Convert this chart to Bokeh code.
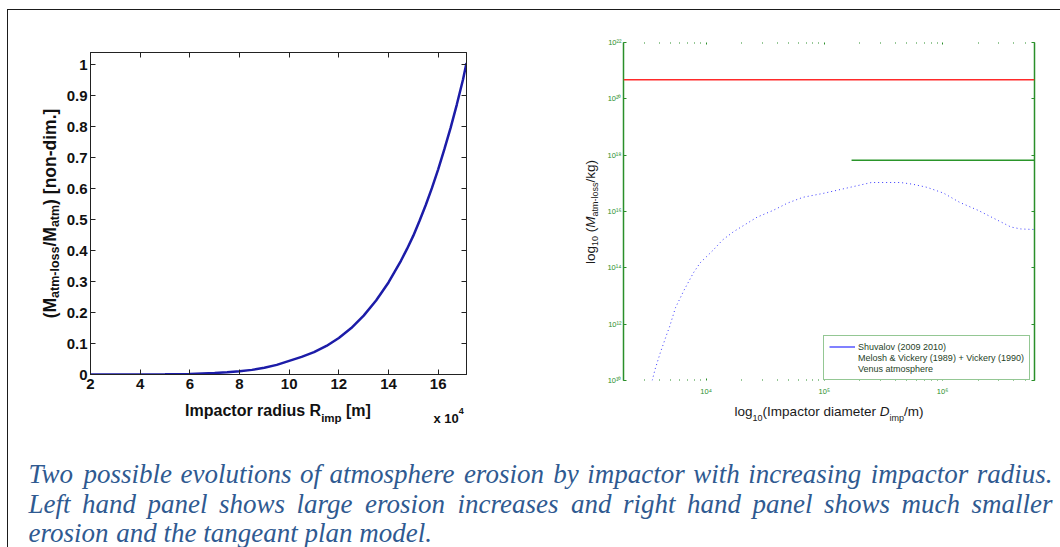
import math

from bokeh.core.properties import value
from bokeh.embed import file_html
from bokeh.layouts import column, row
from bokeh.models import (ColumnDataSource, CustomJSTickFormatter, FixedTicker, Legend,
                          LegendItem, LinearAxis, LogAxis, Range1d, Span)
from bokeh.plotting import figure
from bokeh.resources import INLINE

# ---------------------------------------------------------------- data
# Left panel: normalised atmospheric mass loss vs impactor radius (units of 1e4 m)
radius_1e4m = [2, 3, 4, 5, 6, 7, 7.5, 8, 8.5, 9, 9.5, 10, 10.5, 11, 11.5, 12, 12.5,
               13, 13.5, 14, 14.5, 14.75, 15, 15.25, 15.5, 15.75, 16, 16.25, 16.5,
               16.75, 17, 17.14]
loss_fraction = [0.0, 0.0, 0.0002, 0.0006, 0.0018, 0.0046, 0.0070, 0.0103, 0.0149,
                 0.022, 0.031, 0.044, 0.057, 0.072, 0.092, 0.118, 0.150, 0.190, 0.239,
                 0.297, 0.367, 0.406, 0.448, 0.496, 0.547, 0.602, 0.662, 0.727, 0.796,
                 0.871, 0.952, 1.005]
left_xticks = [2, 4, 6, 8, 10, 12, 14, 16]
left_yticks = [0, 0.1, 0.2, 0.3, 0.4, 0.5, 0.6, 0.7, 0.8, 0.9, 1.0]

# Right panel: Shuvalov (2009, 2010) eroded mass vs impactor diameter
shuvalov_diam_m = [3.5e3, 3.7e3, 4.1e3, 4.7e3, 4.9e3, 5.5e3, 6.5e3, 7.8e3, 8.9e3,
                   1.15e4, 1.38e4, 1.7e4, 2.7e4, 3.7e4, 4.9e4, 6.6e4, 9.8e4,
                   2.5e5, 4.4e5, 5.6e5, 7.4e5, 1.02e6, 1.4e6, 2.0e6, 2.7e6,
                   3.8e6, 4.6e6, 5.9e6]
shuvalov_mass_kg = [1.0e10, 2.5e10, 9.8e10, 5.0e11, 7.9e11, 3.8e12, 1.6e13, 6.6e13,
                    1.5e14, 4.3e14, 9.8e14, 1.9e15, 6.3e15, 1.1e16, 2.0e16, 3.2e16,
                    4.4e16, 1.07e17, 1.07e17, 9.3e16, 7.2e16, 4.5e16, 2.1e16,
                    1.1e16, 5.8e15, 2.8e15, 2.4e15, 2.3e15]
# Melosh & Vickery (1989) + Vickery (1990): saturated erosion for large impactors
mv_diam_m = [1.7e5, 6.0e6]
mv_mass_kg = [6.6e17, 6.6e17]
# Total mass of the Venus atmosphere
venus_atm_mass_kg = 4.8e20

right_xticks = [1e4, 1e5, 1e6]
right_yticks = [1e10, 1e12, 1e14, 1e16, 1e18, 1e20, 1e22]

legend_labels = ["Shuvalov (2009 2010)",
                 "Melosh & Vickery (1989) + Vickery (1990)",
                 "Venus atmosphere"]

caption_lines = [
    "Two possible evolutions of atmosphere erosion by impactor with increasing impactor radius.",
    "Left hand panel shows large erosion increases and right hand panel shows much smaller",
    "erosion and the tangeant plan model.",
]

# ---------------------------------------------------------------- font metrics
HELV = {' ': 278, '(': 333, ')': 333, '/': 278, '-': 333, '.': 278, '[': 278, ']': 278,
        'D': 722, 'I': 278, 'M': 833, 'R': 722,
        'a': 556, 'b': 556, 'c': 500, 'd': 556, 'e': 556, 'f': 278, 'g': 556, 'h': 556,
        'i': 222, 'j': 222, 'k': 500, 'l': 222, 'm': 833, 'n': 556, 'o': 556, 'p': 556,
        'q': 556, 'r': 333, 's': 500, 't': 278, 'u': 556, 'v': 500, 'w': 722, 'x': 500,
        'y': 500, 'z': 500}
HELV_BOLD = {' ': 278, '(': 333, ')': 333, '/': 278, '-': 333, '.': 278, '[': 333, ']': 333,
             'D': 722, 'I': 278, 'M': 833, 'R': 722,
             'a': 556, 'b': 611, 'c': 556, 'd': 611, 'e': 556, 'f': 333, 'g': 611, 'h': 611,
             'i': 278, 'j': 278, 'k': 556, 'l': 278, 'm': 889, 'n': 611, 'o': 611, 'p': 611,
             'q': 611, 'r': 389, 's': 556, 't': 333, 'u': 611, 'v': 556, 'w': 778, 'x': 556,
             'y': 556, 'z': 500}
TIMES_ITALIC = {' ': 250, '.': 250, 'T': 556, 'L': 556,
                'a': 500, 'b': 500, 'c': 444, 'd': 500, 'e': 444, 'f': 278, 'g': 500,
                'h': 500, 'i': 278, 'j': 278, 'k': 444, 'l': 278, 'm': 722, 'n': 500,
                'o': 500, 'p': 500, 'q': 500, 'r': 389, 's': 389, 't': 278, 'u': 500,
                'v': 444, 'w': 667, 'x': 444, 'y': 444, 'z': 389}


def text_width(text, size, table):
    return sum(table.get(ch, 556) for ch in text) * size / 1000.0


def metrics_for(style):
    return HELV_BOLD if "bold" in style else HELV


def run_width(parts):
    return sum(text_width(t, s, metrics_for(st)) for t, s, st, _ in parts)


def strip(w, h):
    """A bare figure whose frame is the whole canvas, in pixel-like coordinates
    (x to the right, y downwards), used to hold axis titles."""
    f = figure(width=w, height=h, x_range=Range1d(0, w), y_range=Range1d(h, 0),
               x_axis_location=None, y_axis_location=None, min_border=0,
               output_backend="svg", toolbar_location=None, frame_align=False,
               background_fill_color="white", border_fill_color="white")
    f.grid.visible = False
    f.outline_line_color = None
    return f


def draw_runs(fig, x0, y0, parts, color, font, angle=0.0):
    """Draw a title made of runs (text, size, style, baseline shift)."""
    offset = 0.0
    for text, size, style, shift in parts:
        table = metrics_for(style)
        body = text.lstrip(" ")
        offset += text_width(text[:len(text) - len(body)], size, table)
        if angle == 0:
            x, y = x0 + offset, y0 - shift
        else:
            x, y = x0 - shift, y0 - offset
        fig.text(x=[x], y=[y], text=[body], angle=angle, text_font=value(font),
                 text_font_size=f"{size}px", text_font_style=style, text_color=color,
                 text_baseline="alphabetic", text_align="left")
        offset += text_width(body, size, table)


blank_fmt = CustomJSTickFormatter(code="return '';")

# ---------------------------------------------------------------- left panel
p1 = figure(width=497, height=387, x_range=Range1d(2, 17.14), y_range=Range1d(0, 1.039),
            output_backend="svg", toolbar_location=None, frame_align=False,
            min_border_left=26, min_border_right=94, min_border_top=42, min_border_bottom=23,
            background_fill_color="white", border_fill_color="white")
p1.grid.visible = False
p1.outline_line_color = "#222222"

lin_fmt = CustomJSTickFormatter(code="return String(Math.round(tick * 10) / 10);")


def style_left_axis(ax, ticks, show_labels):
    ax.ticker = FixedTicker(ticks=ticks, minor_ticks=[])
    ax.axis_line_color = "#222222"
    ax.major_tick_line_color = "#222222"
    ax.major_tick_in = 5
    ax.major_tick_out = 0
    ax.minor_tick_line_color = None
    ax.formatter = lin_fmt if show_labels else blank_fmt
    ax.major_label_text_font = "Liberation Sans"
    ax.major_label_text_font_style = "bold"
    ax.major_label_text_color = "#111111"
    ax.major_label_text_font_size = "15px"
    ax.major_label_standoff = 4


style_left_axis(p1.xaxis[0], left_xticks, True)
style_left_axis(p1.yaxis[0], left_yticks, True)
p1.yaxis[0].major_label_standoff = 3
for loc, ticks in (("above", left_xticks), ("right", left_yticks)):
    mirror = LinearAxis()
    style_left_axis(mirror, ticks, False)
    p1.add_layout(mirror, loc)

p1.line(radius_1e4m, loss_fraction, line_color="#1c1ca8", line_width=2.5)

# axis titles of the left panel
ys1 = strip(55, 387)
ylab1 = [("(M", 17.5, "bold", 0), ("atm-loss", 12.5, "bold", -5),
         ("/M", 17.5, "bold", 0), ("atm", 12.5, "bold", -5),
         (") [non-dim.]", 17.5, "bold", 0)]
draw_runs(ys1, 41, 203 + run_width(ylab1) / 2, ylab1, "#111111", "Liberation Sans",
          angle=math.pi / 2)

xs1 = strip(552, 33)
xlab1 = [("Impactor radius R", 16, "bold", 0), ("imp", 11.5, "bold", -7),
         (" [m]", 16, "bold", 0)]
draw_runs(xs1, 269.5 - run_width(xlab1) / 2, 13, xlab1, "#111111", "Liberation Sans")
draw_runs(xs1, 425, 21, [("x 10", 13, "bold", 0), ("4", 9, "bold", 8)],
          "#111111", "Liberation Sans")

# ---------------------------------------------------------------- right panel
GREEN = "#2a8f2a"
p2 = figure(width=460, height=388, x_axis_type="log", y_axis_type="log",
            x_range=Range1d(2e3, 6e6), y_range=Range1d(1e10, 1e22),
            output_backend="svg", toolbar_location=None, frame_align=False,
            min_border_left=23, min_border_right=26, min_border_top=32, min_border_bottom=17,
            background_fill_color="white", border_fill_color="white")
p2.grid.visible = False
p2.outline_line_color = None

pow_fmt = CustomJSTickFormatter(code="""
const sup = {"0": "\u2070", "1": "\u00b9", "2": "\u00b2", "3": "\u00b3", "4": "\u2074",
             "5": "\u2075", "6": "\u2076", "7": "\u2077", "8": "\u2078", "9": "\u2079"};
const e = Math.round(Math.log10(tick));
return "10" + String(e).split("").map(c => sup[c]).join("");
""")

x_minor = [m * 10 ** k for k in (3, 4, 5) for m in range(2, 10)] + \
          [m * 1e6 for m in range(2, 7)]


def style_right_axis(ax, is_x, show_labels):
    if is_x:
        ax.ticker = FixedTicker(ticks=right_xticks, minor_ticks=x_minor)
        ax.axis_line_color = None
        ax.major_tick_in = 2
        ax.minor_tick_in = 1
        ax.major_label_standoff = 6
    else:
        ax.ticker = FixedTicker(ticks=right_yticks, minor_ticks=[])
        ax.axis_line_color = GREEN
        ax.axis_line_width = 1.5
        ax.major_tick_in = 3
        ax.major_label_standoff = 2
    ax.major_tick_out = 0
    ax.minor_tick_out = 0
    ax.major_tick_line_color = GREEN
    ax.minor_tick_line_color = GREEN
    ax.formatter = pow_fmt if show_labels else blank_fmt
    ax.major_label_text_font = "Liberation Sans"
    ax.major_label_text_color = GREEN
    ax.major_label_text_font_size = "7.5px"


style_right_axis(p2.xaxis[0], True, True)
style_right_axis(p2.yaxis[0], False, True)
top_ax = LogAxis()
style_right_axis(top_ax, True, False)
p2.add_layout(top_ax, "above")
right_ax = LogAxis()
style_right_axis(right_ax, False, False)
p2.add_layout(right_ax, "right")

p2.add_layout(Span(location=venus_atm_mass_kg, dimension="width",
                   line_color="#ff2a2a", line_width=1.5))
p2.line(mv_diam_m, mv_mass_kg, line_color="#2a952a", line_width=1.5)
p2.line(shuvalov_diam_m, shuvalov_mass_kg, line_color="#3a3aff", line_width=1,
        line_dash="1 3")

# legend samples: renderers whose data sit outside the visible ranges
off_x, off_y = [1e2, 2e2], [1e5, 1e5]
leg_shuv = p2.line(off_x, off_y, line_color="#8080ff", line_width=2)
leg_mv = p2.line(off_x, off_y, line_color="#2a952a", line_alpha=0)
leg_ven = p2.line(off_x, off_y, line_color="#ff2a2a", line_alpha=0)
legend = Legend(items=[LegendItem(label=legend_labels[0], renderers=[leg_shuv]),
                       LegendItem(label=legend_labels[1], renderers=[leg_mv]),
                       LegendItem(label=legend_labels[2], renderers=[leg_ven])],
                location=(200, 0), margin=0, padding=5, spacing=0,
                glyph_width=26, glyph_height=11, label_height=11, label_standoff=3,
                label_text_font="Liberation Sans", label_text_font_size="9px",
                label_text_color="#1f3f1f", border_line_color=GREEN, border_line_width=1.3,
                background_fill_color="white", background_fill_alpha=1.0)
p2.add_layout(legend)

# axis titles of the right panel
ys2 = strip(40, 388)
ylab2 = [("log", 13.5, "normal", 0), ("10", 9, "normal", -4), (" (", 13.5, "normal", 0),
         ("M", 13.5, "italic", 0), ("atm-loss", 9, "normal", -4),
         ("/kg)", 13.5, "normal", 0)]
draw_runs(ys2, 30, 201.5 + run_width(ylab2) / 2, ylab2, "#1a1a1a", "Liberation Sans",
          angle=math.pi / 2)

xs2 = strip(500, 32)
xlab2 = [("log", 13.5, "normal", 0), ("10", 9, "normal", -6),
         ("(Impactor diameter ", 13.5, "normal", 0), ("D", 13.5, "italic", 0),
         ("imp", 9, "normal", -6), ("/m)", 13.5, "normal", 0)]
draw_runs(xs2, 268.5 - run_width(xlab2) / 2, 13, xlab2, "#1a1a1a", "Liberation Sans")

# ---------------------------------------------------------------- caption
CAP_W, CAP_H = 1052, 117
pc = strip(CAP_W, CAP_H)

CAP_SIZE = 27
cap_left, cap_right = 20, 1044
baselines = [43, 73, 102]
wx, wy, wt = [], [], []
for i, line in enumerate(caption_lines):
    words = line.split(" ")
    widths = [text_width(w, CAP_SIZE, TIMES_ITALIC) for w in words]
    if i < len(caption_lines) - 1:
        gap = (cap_right - cap_left - sum(widths)) / (len(words) - 1)
    else:
        gap = TIMES_ITALIC[' '] * CAP_SIZE / 1000.0
    x = cap_left
    for w, ww in zip(words, widths):
        wx.append(x)
        wy.append(baselines[i])
        wt.append(w)
        x += ww + gap

pc.text(x="x", y="y", text="t", source=ColumnDataSource(dict(x=wx, y=wy, t=wt)),
        text_font=value("Liberation Serif"), text_font_style="italic",
        text_font_size=f"{CAP_SIZE}px", text_color="#2f5a91",
        text_baseline="alphabetic", text_align="left")

left_block = column(row(ys1, p1), xs1)
right_block = column(row(ys2, p2), xs2)
root = column(row(left_block, right_block), pc, margin=(9, 0, 0, 7),
              styles={"border-top": "1px solid #1b1b1b", "border-left": "1px solid #1b1b1b",
                      "background-color": "white"})

open("out.html", "w").write(file_html(root, INLINE))
